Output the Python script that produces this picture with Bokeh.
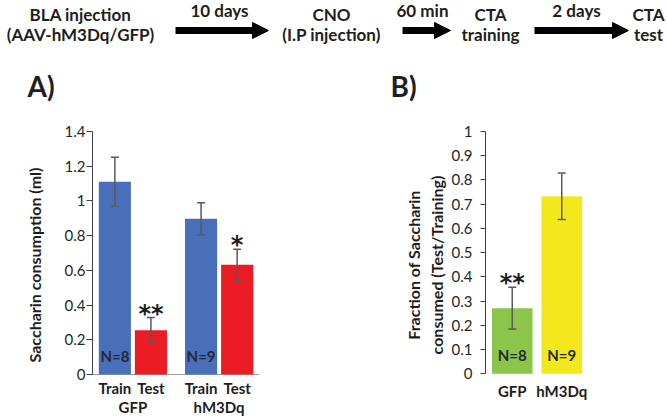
from bokeh.plotting import figure
from bokeh.models import (ColumnDataSource, FactorRange, Range1d, FixedTicker,
                          Whisker, TeeHead, Arrow, NormalHead, Span)
from bokeh.layouts import column, row
from bokeh.embed import file_html
from bokeh.resources import INLINE
from bokeh.core.properties import value

# ---------------- data ----------------
a_groups = ["GFP", "GFP", "hM3Dq", "hM3Dq"]
a_phases = ["Train", "Test", "Train", "Test"]
a_means = [1.11, 0.255, 0.897, 0.632]
a_sems = [0.141, 0.073, 0.092, 0.090]
a_colors = ["#4a6fba", "#ec1c24", "#4a6fba", "#ec1c24"]
a_n = ["N=8", "", "N=9", ""]
a_stars = ["", "**", "", "*"]
a_group_names = ["GFP", "hM3Dq"]
a_yticks = [0, 0.2, 0.4, 0.6, 0.8, 1.0, 1.2, 1.4]
a_ytick_labels = ["0", "0.2", "0.4", "0.6", "0.8", "1", "1.2", "1.4"]

b_groups = ["GFP", "hM3Dq"]
b_means = [0.271, 0.733]
b_sems = [0.086, 0.096]
b_colors = ["#8dc44a", "#f2e81c"]
b_n = ["N=8", "N=9"]
b_stars = ["**", ""]
b_yticks = [0, 0.1, 0.2, 0.3, 0.4, 0.5, 0.6, 0.7, 0.8, 0.9, 1.0]
b_ytick_labels = ["0", "0.1", "0.2", "0.3", "0.4", "0.5", "0.6", "0.7", "0.8", "0.9", "1"]

flow_line1 = ["BLA injection", "CNO", "CTA", "CTA"]
flow_line2 = ["(AAV-hM3Dq/GFP)", "(I.P injection)", "training", "test"]
flow_steps = ["10 days", "60 min", "2 days"]
panel_tags = ["A)", "B)"]

# ---------------- layout constants (pixels) ----------------
FONT = "Lato"
STAR_FONT = "DejaVu Sans"
DARK = "#1e1e1e"
NCOL = "#222a3a"
TOP_H = 112          # height of the flow-diagram strip
PLOT_TOP = 131       # y pixel of the panels' top tick
col_x = [80, 331, 490, 648]
step_x = [219, 422, 576]
arrow_x0 = [175, 402, 534]
arrow_x1 = [268, 450, 628]
tag_x = [27, 390]


def new_fig(**kw):
    p = figure(output_backend="svg", toolbar_location=None, title=None, **kw)
    p.grid.visible = False
    p.outline_line_color = None
    p.background_fill_color = "white"
    p.border_fill_color = "white"
    return p


# ---------------- top flow diagram ----------------
top = new_fig(frame_width=667, frame_height=TOP_H, x_range=Range1d(0, 667), y_range=Range1d(TOP_H, 0),
              x_axis_location=None, y_axis_location=None, min_border=0)
common = dict(text_font=value(FONT), text_font_style="bold", text_align="center",
              text_baseline="middle", text_color=DARK)
top.text(x=col_x, y=[13.5] * 4, text=flow_line1, text_font_size="17px", **common)
top.text(x=col_x, y=[34] * 4, text=flow_line2, text_font_size="17px", **common)
top.text(x=step_x, y=[10] * 3, text=flow_steps, text_font_size="17px", **common)
arr_src = ColumnDataSource(dict(x0=arrow_x0, x1=arrow_x1, y0=[30] * 3, y1=[30] * 3))
top.add_layout(Arrow(source=arr_src, x_start="x0", y_start="y0", x_end="x1", y_end="y1",
                     line_width=7, line_color="black",
                     end=NormalHead(size=16, fill_color="black", line_color="black")))
top.text(x=tag_x, y=[85, 85], text=panel_tags, text_font=value(FONT), text_font_style="bold",
         text_font_size="28px", text_align="left", text_baseline="middle", text_color=DARK)


def style_yaxis(p, yticks, ylabels, ylabel, top_val):
    ya = p.yaxis[0]
    ya.bounds = (0, top_val)
    ya.ticker = FixedTicker(ticks=yticks)
    ya.major_label_overrides = dict(zip(yticks, ylabels))
    ya.major_label_text_font = FONT
    ya.major_label_text_font_size = "15px"
    ya.major_label_text_color = "#262626"
    ya.major_tick_in = 0
    ya.minor_tick_line_color = None
    ya.major_tick_line_color = "#404040"
    ya.axis_line_color = "#404040"
    ya.axis_label = ylabel
    ya.axis_label_text_font = FONT
    ya.axis_label_text_font_style = "bold"
    ya.axis_label_text_font_size = "16px"
    ya.axis_label_text_color = DARK
    return ya


def add_bars(p, src, width):
    p.vbar(x="x", top="top", width=width, fill_color="color", line_color=None, source=src)
    p.add_layout(Whisker(source=src, base="x", upper="upper", lower="lower", level="overlay",
                         line_color="#5a5a5a", line_width=1.5,
                         upper_head=TeeHead(size=8, line_color="#5a5a5a", line_width=1.5),
                         lower_head=TeeHead(size=8, line_color="#5a5a5a", line_width=1.5)))
    p.text(x="x", y=0, text="n", source=src, y_offset=-19, text_font=value(FONT),
           text_font_style="bold", text_font_size="15px", text_align="center",
           text_baseline="middle", text_color=NCOL)
    p.text(x="x", y="upper", text="stars", source=src, y_offset=-4, text_font=value(STAR_FONT),
           text_font_style="bold", text_font_size="24px", text_align="center",
           text_baseline="middle", text_color=DARK)


# ---------------- panel A ----------------
a_x = list(zip(a_groups, a_phases))
src_a = ColumnDataSource(dict(
    x=a_x, top=a_means, color=a_colors, n=a_n, stars=a_stars, phase=a_phases,
    upper=[m + s for m, s in zip(a_means, a_sems)],
    lower=[m - s for m, s in zip(a_means, a_sems)],
))
ppu_a = 243 / 1.4  # pixels per unit on panel A
pA = new_fig(frame_width=167, frame_height=417 - TOP_H,
             x_range=FactorRange(*a_x, group_padding=0.39, factor_padding=0.0,
                                 range_padding=0.12, range_padding_units="absolute"),
             y_range=Range1d(-43 / ppu_a, 1.4 + (PLOT_TOP - TOP_H) / ppu_a), x_axis_location=None,
             min_border_left=92, min_border_right=71, min_border_top=0, min_border_bottom=0)
pA.add_layout(Span(location=0, dimension="width", line_color="#a0a0a0", line_width=1, level="underlay"))
add_bars(pA, src_a, 0.89)
pA.text(x="x", y=0, text="phase", source=src_a, y_offset=13.5, text_font=value(FONT),
        text_font_style="bold", text_font_size="15px", text_align="center",
        text_baseline="middle", text_color=DARK)
pA.text(x=a_group_names, y=[0, 0], text=a_group_names, y_offset=32.5, text_font=value(FONT),
        text_font_style="bold", text_font_size="15px", text_align="center",
        text_baseline="middle", text_color=DARK)
ya = style_yaxis(pA, a_yticks, a_ytick_labels, "Saccharin consumption (ml)", 1.4)
ya.major_tick_out = 6
ya.major_label_standoff = 1
ya.axis_label_standoff = 18

# ---------------- panel B ----------------
src_b = ColumnDataSource(dict(
    x=b_groups, top=b_means, color=b_colors, n=b_n, stars=b_stars,
    upper=[m + s for m, s in zip(b_means, b_sems)],
    lower=[m - s for m, s in zip(b_means, b_sems)],
))
ppu_b = 242.3 / 1.0
pB = new_fig(frame_width=103, frame_height=417 - TOP_H,
             x_range=FactorRange(*b_groups, factor_padding=0.0,
                                 range_padding=0.04, range_padding_units="absolute"),
             y_range=Range1d(-43.7 / ppu_b, 1.0 + (PLOT_TOP - TOP_H) / ppu_b), x_axis_location=None,
             min_border_left=155, min_border_right=79, min_border_top=0, min_border_bottom=0)
add_bars(pB, src_b, 0.82)
pB.text(x="x", y=0, text="x", source=src_b, y_offset=17, text_font=value(FONT),
        text_font_style="bold", text_font_size="15px", text_align="center",
        text_baseline="middle", text_color=DARK)
yb = style_yaxis(pB, b_yticks, b_ytick_labels, "Fraction of Saccharin\nconsumed (Test/Training)", 1.0)
yb.major_tick_out = 5
yb.major_label_standoff = 8
yb.axis_label_standoff = 3

layout = column(top, row(pA, pB))
open("out.html", "w").write(file_html(layout, INLINE))
